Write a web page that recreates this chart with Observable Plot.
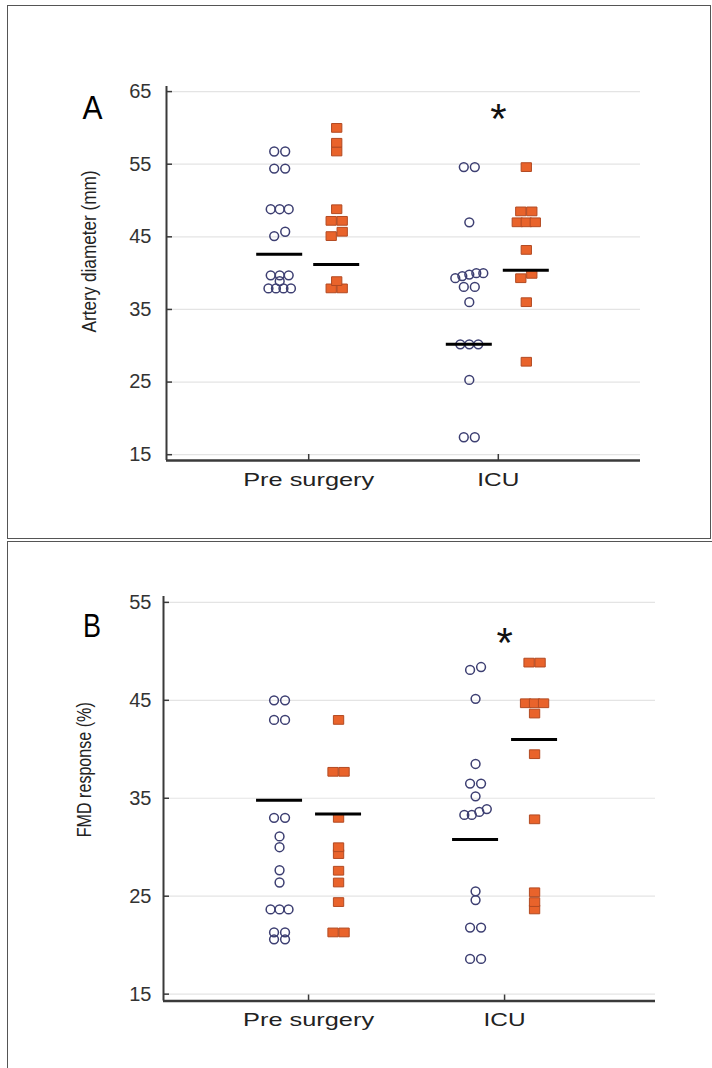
<!DOCTYPE html>
<html>
<head>
<meta charset="utf-8">
<script src="https://cdn.jsdelivr.net/npm/d3@7"></script>
<script src="https://cdn.jsdelivr.net/npm/@observablehq/plot@0.6"></script>
<style>
  html, body { margin: 0; padding: 0; background: #fff; }
  #wrap { position: relative; width: 712px; height: 1068px; overflow: hidden; background: #fff; font-family: "Liberation Sans", Arial, sans-serif; }
  #wrap svg { position: absolute; left: 0; background: transparent; }
  .frameA { position: absolute; left: 7px; top: 5px; width: 702px; height: 532px; border: 1.5px solid #555; }
  .frameB { position: absolute; left: 7px; top: 541px; width: 720px; height: 540px; border-top: 1.5px solid #555; border-left: 1.5px solid #555; }
</style>
</head>
<body>
<div id="wrap">
  <div class="frameA"></div>
  <div class="frameB"></div>
</div>
<script>
// ---------- data ----------
const categories = ["Pre surgery", "ICU"];
const yTicksA = [15, 25, 35, 45, 55, 65];
const yTicksB = [15, 25, 35, 45, 55];

// Panel A: artery diameter (mm)
const diamPreCircle = [56.75, 56.75, 54.4, 54.4, 48.8, 48.8, 48.8, 45.7, 45.1, 39.7, 39.7, 39.7, 38.9, 37.9, 37.9, 37.9, 37.9];
const diamPreSquare = [60.0, 57.95, 56.75, 48.8, 47.2, 47.2, 45.7, 45.1, 38.9, 37.9, 37.9];
const diamIcuCircle = [54.6, 54.6, 47.0, 40.0, 40.0, 39.8, 39.6, 39.3, 38.1, 38.1, 36.0, 30.2, 30.2, 30.2, 25.3, 17.4, 17.4];
const diamIcuSquare = [54.6, 48.5, 48.5, 47.0, 47.0, 47.0, 43.2, 39.9, 39.3, 36.0, 27.8];
const diamMeans = [42.6, 41.2, 30.2, 40.4]; // pre circle, pre square, ICU circle, ICU square

// Panel B: FMD response (%)
const fmdPreCircle = [45.0, 45.0, 43.0, 43.0, 33.0, 33.0, 31.1, 30.0, 27.65, 26.4, 23.65, 23.65, 23.65, 21.3, 21.3, 20.6, 20.6];
const fmdPreSquare = [43.0, 37.7, 37.7, 33.0, 30.0, 29.3, 27.6, 26.4, 24.4, 21.3, 21.3];
const fmdIcuCircle = [48.4, 48.1, 45.15, 38.5, 36.5, 36.5, 35.2, 33.9, 33.6, 33.3, 33.3, 25.5, 24.6, 21.8, 21.8, 18.6, 18.6];
const fmdIcuSquare = [48.85, 48.85, 44.7, 44.7, 44.7, 43.65, 39.5, 32.85, 25.4, 24.4, 23.65];
const fmdMeans = [34.8, 33.4, 30.8, 41.0];

// ---------- helpers ----------
const spacingFor = {1: 0, 2: 11, 3: 9, 4: 7.5, 5: 7};

function layoutGroup(values, catPos, offPx, ppu) {
  const sorted = values.slice().sort((a, b) => a - b);
  const clusters = [];
  for (const v of sorted) {
    const last = clusters[clusters.length - 1];
    if (last && v - last[last.length - 1] <= 0.65) last.push(v);
    else clusters.push([v]);
  }
  const out = [];
  for (const c of clusters) {
    const k = c.length, s = spacingFor[k] ?? 7;
    c.forEach((v, i) => out.push({x: catPos + (offPx + (i - (k - 1) / 2) * s) / ppu, y: v}));
  }
  return out;
}

const rectSymbol = {
  draw(context, size) {
    const r = Math.sqrt(size / Math.PI);
    const w = r * 1.12, h = r * 0.95;
    context.moveTo(-w, -h);
    context.lineTo(w, -h);
    context.lineTo(w, h);
    context.lineTo(-w, h);
    context.closePath();
  }
};

function panel(cfg) {
  const {width, height, mL, mR, mT, mB, xDom, yDom, yTicks, groups, means, offC, offS, yLabel, letter, letterDx, letterDy, labelDx, labelDy, tickDx, starDy, catDy} = cfg;
  const ppu = (width - mL - mR) / (xDom[1] - xDom[0]);
  const ppuY = (height - mT - mB) / (yDom[1] - yDom[0]);
  const circles = [
    ...layoutGroup(groups[0], 1, offC, ppu),
    ...layoutGroup(groups[2], 2, offC, ppu)
  ];
  const squares = [
    ...layoutGroup(groups[1], 1, offS, ppu),
    ...layoutGroup(groups[3], 2, offS, ppu)
  ];
  const meanRows = [
    {c: 1 + offC / ppu, v: means[0]},
    {c: 1 + offS / ppu, v: means[1]},
    {c: 2 + offC / ppu, v: means[2]},
    {c: 2 + offS / ppu, v: means[3]}
  ];
  const ink = "#3a3a3a";
  const font = "'Liberation Sans', Arial, sans-serif";
  const plot = Plot.plot({
    width, height,
    marginLeft: mL, marginRight: mR, marginTop: mT, marginBottom: mB,
    x: {domain: xDom, axis: null},
    y: {domain: yDom, axis: null},
    style: {fontFamily: font, background: "transparent"},
    marks: [
      Plot.ruleY(yTicks, {x1: xDom[0], x2: xDom[1], stroke: "#e4e4e4", strokeWidth: 1.2}),
      Plot.ruleX([xDom[0]], {y1: yDom[0], y2: yDom[1], stroke: ink, strokeWidth: 2}),
      Plot.ruleY([yDom[0]], {x1: xDom[0], x2: xDom[1], stroke: ink, strokeWidth: 2.5}),
      Plot.ruleY(yTicks, {x1: xDom[0], x2: xDom[0] + 6 / ppu, stroke: ink, strokeWidth: 1.5}),
      Plot.ruleX([1, 2], {y1: yDom[0], y2: yDom[0] + 6 / ppuY, stroke: ink, strokeWidth: 1.5}),
      Plot.text(yTicks, {x: xDom[0], y: d => d, text: d => String(d), dx: tickDx, textAnchor: "end", fontSize: 20, fill: "#333"}),
      Plot.text(categories, {x: (d, i) => i + 1, y: yDom[0], text: d => d, dy: catDy, fontSize: 19, fill: "#222"}),
      Plot.text([yLabel], {frameAnchor: "left", text: d => d, rotate: -90, textAnchor: "middle", lineAnchor: "middle", dx: labelDx, dy: labelDy, fontSize: 20, fill: "#222"}),
      Plot.text([letter], {frameAnchor: "top-left", text: d => d, textAnchor: "middle", lineAnchor: "middle", dx: letterDx, dy: letterDy, fontSize: 34, fill: "#000"}),
      Plot.text(["*"], {x: 2, y: yDom[1], text: d => d, dy: starDy, fontSize: 42, fill: "#111"}),
      Plot.dot(circles, {x: "x", y: "y", r: 4.4, fill: "none", stroke: "#3d3f72", strokeWidth: 1.5}),
      Plot.dot(squares, {x: "x", y: "y", r: 4.6, symbol: rectSymbol, fill: "#e9632b", stroke: "#b24a22", strokeWidth: 1}),
      Plot.ruleY(meanRows, {y: "v", x1: d => d.c - 23 / ppu, x2: d => d.c + 23 / ppu, stroke: "#000", strokeWidth: 3})
    ]
  });
  return plot;
}

const textLengths = {
  "Pre surgery": 131, "ICU": 42,
  "Artery diameter (mm)": 162, "FMD response (%)": 135,
  "A": 20, "B": 18
};
function fitText(svg) {
  svg.querySelectorAll("text").forEach(t => {
    const L = textLengths[t.textContent];
    if (L) { t.setAttribute("textLength", L); t.setAttribute("lengthAdjust", "spacingAndGlyphs"); }
  });
}

const wrap = document.getElementById("wrap");

const svgA = panel({
  width: 712, height: 540, mL: 166, mR: 72, mT: 86, mB: 80,
  xDom: [0.25, 2.75], yDom: [14.2, 65.7], yTicks: yTicksA,
  groups: [diamPreCircle, diamPreSquare, diamIcuCircle, diamIcuSquare],
  means: diamMeans, offC: -29, offS: 28,
  yLabel: "Artery diameter (mm)", letter: "A",
  letterDx: -74, letterDy: 21.5, labelDx: -77, labelDy: -22, tickDx: -15, starDy: 33, catDy: 19
});
svgA.style.top = "0px";
wrap.appendChild(svgA);

const svgB = panel({
  width: 712, height: 528, mL: 163, mR: 57, mT: 56, mB: 67.5,
  xDom: [0.26, 2.77], yDom: [14.3, 55.6], yTicks: yTicksB,
  groups: [fmdPreCircle, fmdPreSquare, fmdIcuCircle, fmdIcuSquare],
  means: fmdMeans, offC: -29, offS: 30,
  yLabel: "FMD response (%)", letter: "B",
  letterDx: -71.5, letterDy: 29.5, labelDx: -79, labelDy: -29, tickDx: -12, starDy: 47.5, catDy: 19
});
svgB.style.top = "540px";
wrap.appendChild(svgB);

for (const s of [svgA, svgB]) fitText(s);
</script>
</body>
</html>
